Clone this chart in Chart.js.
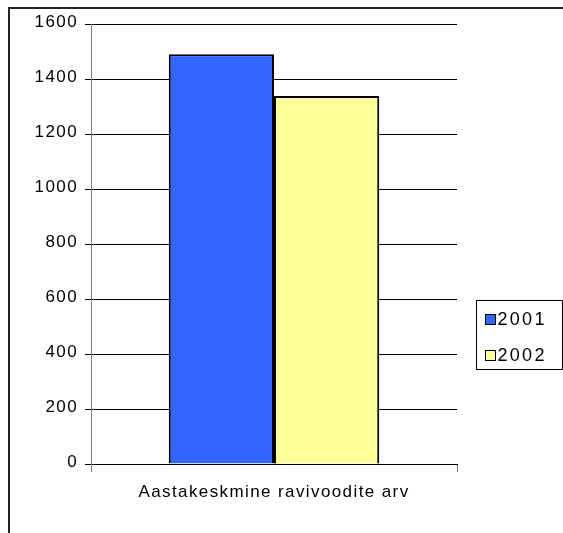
<!DOCTYPE html>
<html>
<head>
<meta charset="utf-8">
<script src="https://cdn.jsdelivr.net/npm/chart.js@4.4.0/dist/chart.umd.min.js"></script>
<style>
  html, body { margin: 0; padding: 0; background: #fff; }
  #wrap { position: relative; width: 563px; height: 533px; overflow: hidden; }
  #frame { position: absolute; left: 8px; top: 7px; width: 600px; height: 600px;
           border-left: 2px solid #222; border-top: 2px solid #222; }
  #c { position: absolute; left: 0; top: 0; }
</style>
</head>
<body>
<div id="wrap">
  <div id="frame"></div>
  <canvas id="c" width="563" height="533"></canvas>
</div>
<script>
// ---- data ----
var categories = ['Aastakeskmine ravivoodite arv'];
var seriesNames = ['2001', '2002'];
var values2001 = [1490];
var values2002 = [1338];
var seriesColors = ['#3366FF', '#FFFF99'];

var FONT = 'Liberation Sans, Arial, sans-serif';

// draws the boxed legend to the right of the plot
var boxLegend = {
  id: 'boxLegend',
  afterDraw: function (chart) {
    var ctx = chart.ctx;
    var area = chart.chartArea;
    var x0 = area.right + 19.5, y0 = 300.5, w = 86, h = 69;
    ctx.save();
    ctx.strokeStyle = '#000';
    ctx.lineWidth = 1;
    ctx.strokeRect(x0, y0, w, h);
    ctx.font = '18px ' + FONT;
    ctx.letterSpacing = '2.3px';
    ctx.textBaseline = 'middle';
    chart.data.datasets.forEach(function (ds, i) {
      var cy = y0 + 19 + i * 36;
      ctx.fillStyle = ds.backgroundColor;
      ctx.fillRect(x0 + 9, cy - 5, 10, 10);
      ctx.strokeRect(x0 + 9, cy - 5, 10, 10);
      ctx.fillStyle = '#000';
      ctx.fillText(ds.label, x0 + 21, cy + 1);
    });
    ctx.restore();
  }
};

var spacing = {
  id: 'spacing',
  beforeDraw: function (chart) { chart.ctx.letterSpacing = '1.4px'; }
};

new Chart(document.getElementById('c'), {
  type: 'bar',
  data: {
    labels: categories,
    datasets: [
      { label: seriesNames[0], data: values2001, backgroundColor: seriesColors[0],
        borderColor: '#000', borderWidth: 2 },
      { label: seriesNames[1], data: values2002, backgroundColor: seriesColors[1],
        borderColor: '#000', borderWidth: 2 }
    ]
  },
  plugins: [spacing, boxLegend],
  options: {
    responsive: false,
    animation: false,
    layout: { padding: { top: 24, right: 106, left: 0, bottom: 0 } },
    datasets: { bar: { barPercentage: 1, categoryPercentage: 0.575 } },
    plugins: { legend: { display: false }, tooltip: { enabled: false } },
    scales: {
      x: {
        afterFit: function (s) { s.height = 69; },
        grid: { display: true, drawOnChartArea: false, tickLength: 8, color: '#808080', offset: true },
        border: { color: '#000', width: 1 },
        ticks: { color: '#000', font: { family: FONT, size: 17 }, padding: 10 }
      },
      y: {
        min: 0, max: 1600,
        afterFit: function (s) { s.width = 91; },
        grid: { color: '#000', tickLength: 6 },
        border: { color: '#808080', width: 1 },
        ticks: { stepSize: 200, color: '#000', font: { family: FONT, size: 17 }, padding: 7, labelOffset: -2,
                 callback: function (v) { return String(v); } }
      }
    }
  }
});
</script>
</body>
</html>
